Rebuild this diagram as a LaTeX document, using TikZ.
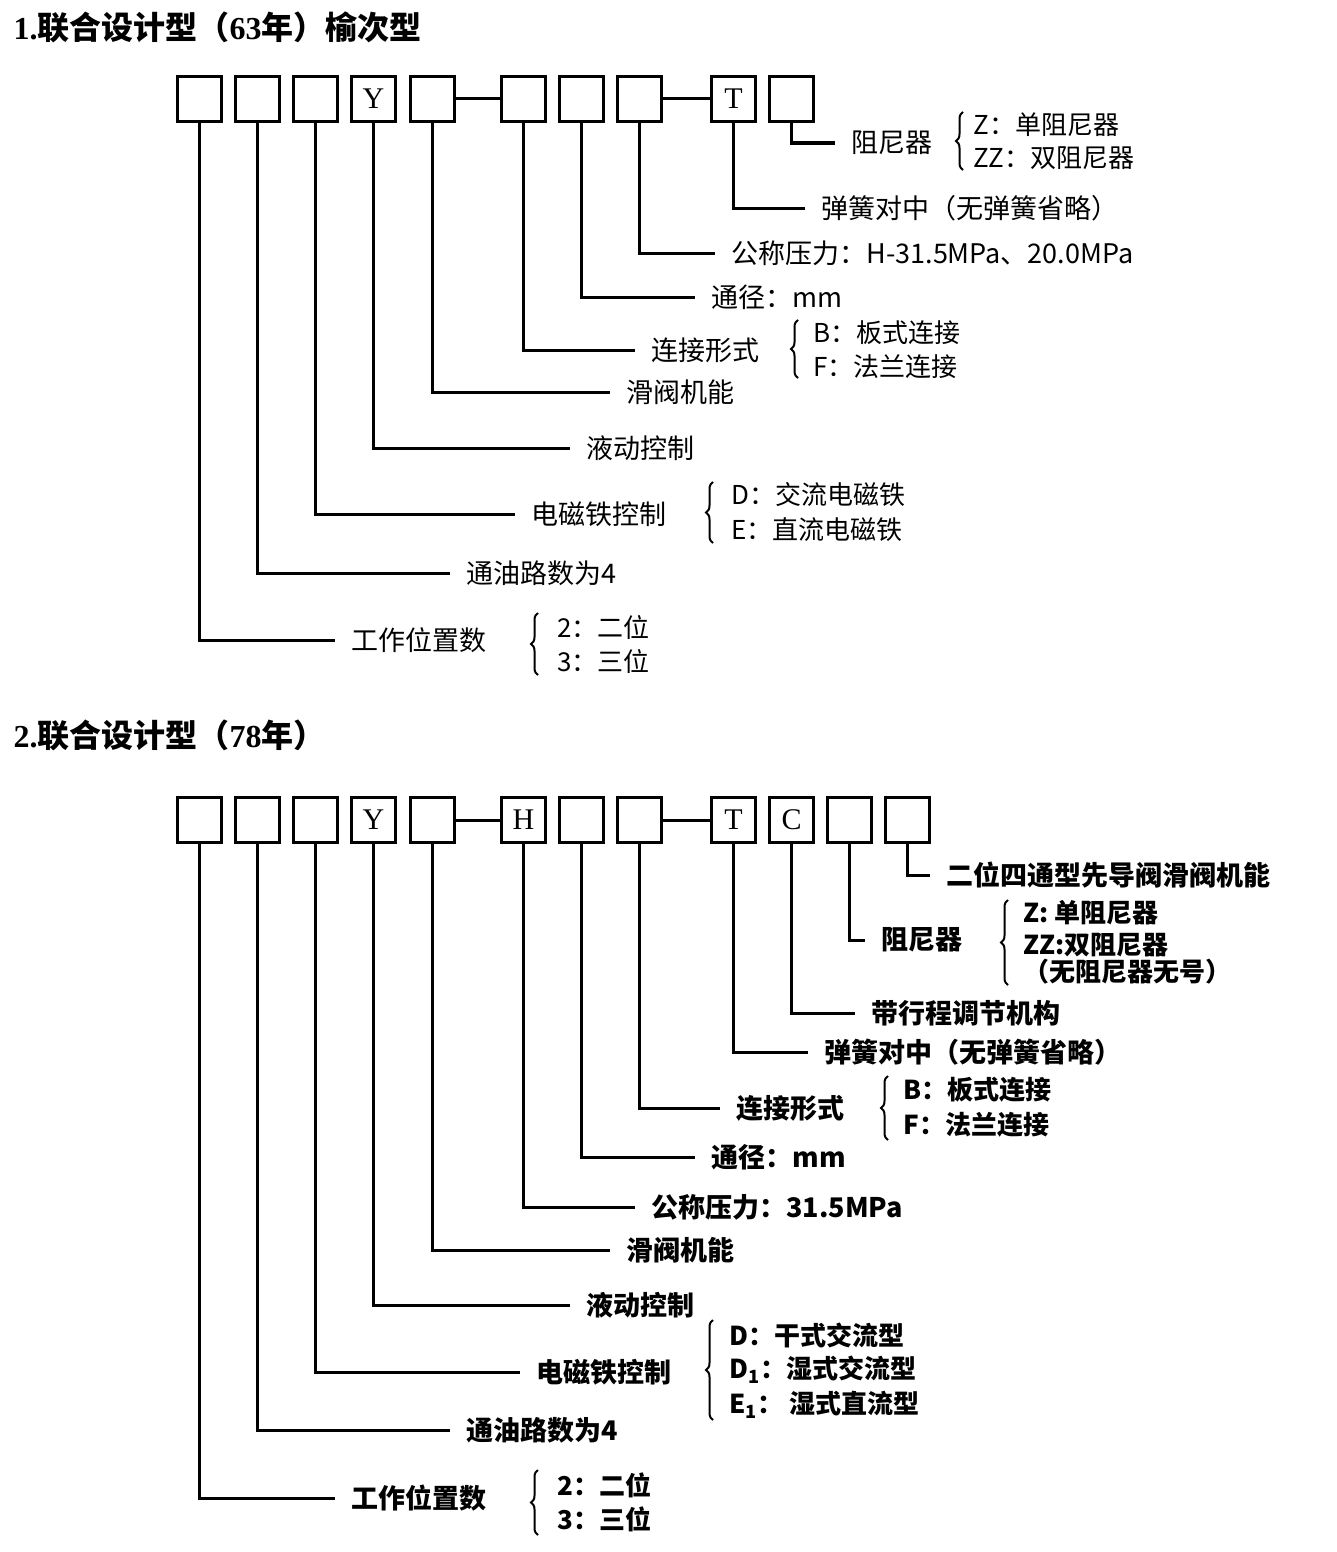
\documentclass[tikz,border=0pt]{standalone}
\usepackage{fontspec}
\setmainfont{Noto Sans CJK SC}
\newfontfamily\lat{Liberation Serif}
\usetikzlibrary{decorations.pathreplacing}
\begin{document}
\begin{tikzpicture}[x=1pt,y=-1pt,line width=3pt,
  bx/.style={draw,minimum width=44pt,minimum height=45pt,inner sep=0,anchor=north west,font=\fontsize{30}{30}\selectfont\lat},
  lb/.style={anchor=west,inner xsep=15pt,inner ysep=0,font=\fontsize{27}{28}\selectfont},
  lbb/.style={lb,font=\fontsize{27}{28}\selectfont\bfseries},
  it/.style={anchor=west,inner sep=0,font=\fontsize{26}{28}\selectfont},
  itb/.style={it,font=\fontsize{26}{28}\selectfont\bfseries},
  br/.style={line width=2pt,decorate,decoration={brace,amplitude=7pt}},
  ttl/.style={anchor=west,inner sep=0,font=\fontsize{32}{34}\selectfont\bfseries}]
\useasboundingbox (0,0) rectangle (1337,1552);
\node[ttl] (t1) at (12,27) {{\lat\bfseries 1.}联合设计型（{\lat\bfseries 63}年）榆次型};
\node[ttl] (t2) at (12,735) {{\lat\bfseries 2.}联合设计型（{\lat\bfseries 78}年）};
% diagram 1 boxes
\foreach \n/\x/\t in {a1/176/,a2/234/,a3/292/,a4/350/Y,a5/409/,a6/500/,a7/558/,a8/616/,a9/710/T,a10/768/}
  \node[bx] (\n) at (\x,75) {\t};
\draw (a5.east) -- (a6.west); \draw (a8.east) -- (a9.west);
\foreach \n/\y/\e/\t in {a10/143/835/阻尼器,a9/208/805/弹簧对中（无弹簧省略）,a8/253/715/公称压力：H-31.5MPa、20.0MPa,a7/297/695/通径：mm,a6/350/635/连接形式,a5/392/610/滑阀机能,a4/448/570/液动控制,a3/514/515/电磁铁控制,a2/573/450/通油路数为4,a1/640/335/工作位置数}
  {\node[lb] (l\n) at (\e,\y) {\t}; \draw (\n.south) |- (l\n.west);}
\draw[br] (963,170)--(963,112); \node[it] (s1) at (972,125) {Z：单阻尼器}; \node[it] (s2) at (972,158) {ZZ：双阻尼器};
\draw[br] (798,378)--(798,320); \node[it] (s3) at (812,333) {B：板式连接}; \node[it] (s4) at (812,367) {F：法兰连接};
\draw[br] (713,543)--(713,482); \node[it] (s5) at (730,495) {D：交流电磁铁}; \node[it] (s6) at (730,530) {E：直流电磁铁};
\draw[br] (538,675)--(538,613); \node[it] (s7) at (556,627) {2：二位}; \node[it] (s8) at (556,661) {3：三位};
% diagram 2
\foreach \n/\x/\t in {b1/176/,b2/234/,b3/292/,b4/350/Y,b5/409/,b6/500/H,b7/558/,b8/616/,b9/710/T,b10/768/C,b11/826/,b12/884/}
  \node[bx] (\n) at (\x,796) {\t};
\draw (b5.east) -- (b6.west); \draw (b8.east) -- (b9.west);
\foreach \n/\y/\e/\t in {b12/875/930/二位四通型先导阀滑阀机能,b11/940/865/阻尼器,b10/1013/855/带行程调节机构,b9/1052/808/弹簧对中（无弹簧省略）,b8/1108/720/连接形式,b7/1157/695/通径：mm,b6/1207/635/公称压力：31.5MPa,b5/1250/610/滑阀机能,b4/1305/570/液动控制,b3/1372/520/电磁铁控制,b2/1430/450/通油路数为4,b1/1498/335/工作位置数}
  {\node[lbb] (l\n) at (\e,\y) {\t}; \draw (\n.south) |- (l\n.west);}
\draw[br] (1008,985)--(1008,900); \node[itb] (u1) at (1022,913) {Z: 单阻尼器}; \node[itb] (u2) at (1022,945) {ZZ:双阻尼器}; \node[itb] (u3) at (1022,972) {（无阻尼器无号）};
\draw[br] (888,1140)--(888,1076); \node[itb] (u4) at (902,1090) {B：板式连接}; \node[itb] (u5) at (902,1125) {F：法兰连接};
\draw[br] (713,1420)--(713,1320); \node[itb] (u6) at (728,1335) {D：干式交流型}; \node[itb] (u7) at (728,1370) {D\textsubscript{1}：湿式交流型}; \node[itb] (u8) at (728,1405) {E\textsubscript{1}：\ 湿式直流型};
\draw[br] (538,1535)--(538,1470); \node[itb] (u9) at (556,1485) {2：二位}; \node[itb] (u10) at (556,1519) {3：三位};
\end{tikzpicture}
\end{document}
